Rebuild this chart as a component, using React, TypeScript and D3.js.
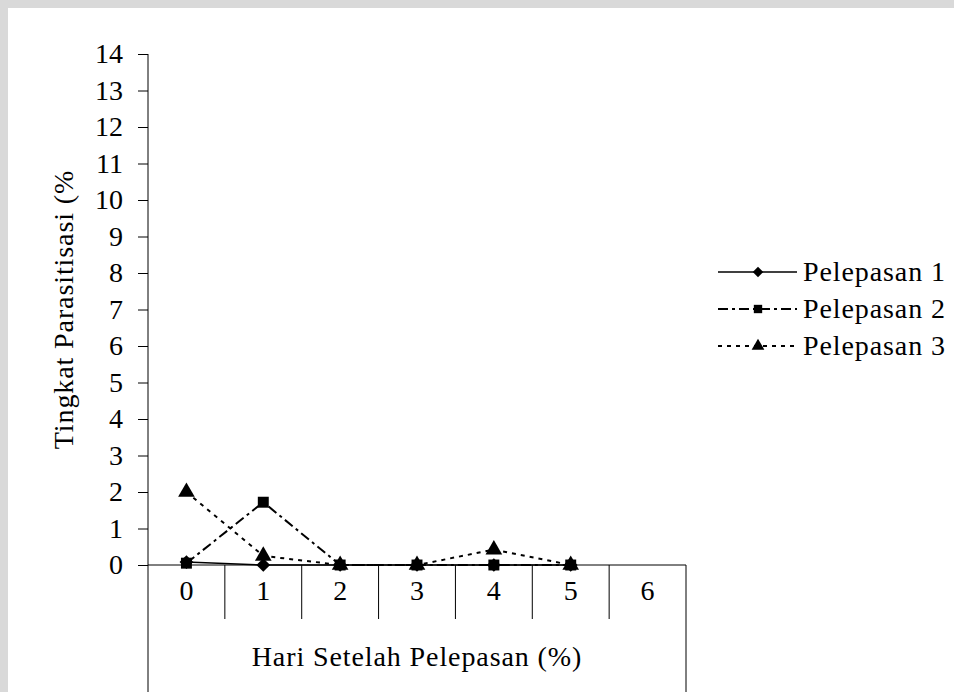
// @ts-nocheck
import { useEffect, useRef } from "react";
import * as d3 from "d3";

const days = ["0", "1", "2", "3", "4", "5", "6"];
const yTicks = d3.range(0, 15);
const pelepasan1 = [0.08, 0, 0, 0, 0, 0];
const pelepasan2 = [0.05, 1.72, 0, 0, 0, 0];
const pelepasan3 = [2.0, 0.25, 0, 0, 0.42, 0];
const seriesNames = ["Pelepasan 1", "Pelepasan 2", "Pelepasan 3"];

const App = () => {
  const ref = useRef(null);

  useEffect(() => {
    const width = 954;
    const height = 692;
    const margin = { top: 54, left: 148, right: 268, bottom: 127 };
    const font = "'Liberation Serif', 'Times New Roman', serif";
    const fs = 28;
    const ls = 0.9; // the source text runs a bit wide

    d3.select(ref.current).selectAll("*").remove();
    const svg = d3
      .select(ref.current)
      .append("svg")
      .attr("width", width)
      .attr("height", height)
      .style("display", "block")
      .style("font-family", font);

    svg.append("rect").attr("width", width).attr("height", height).attr("fill", "#d9d9d9");
    svg.append("rect").attr("x", 8).attr("y", 8).attr("width", width - 8).attr("height", height - 8).attr("fill", "#fff");

    const x = d3
      .scaleBand()
      .domain(days)
      .range([margin.left, width - margin.right]);
    const y = d3
      .scaleLinear()
      .domain([0, 14])
      .range([height - margin.bottom, margin.top]);

    const g = svg.append("g");
    const y0 = y(0);

    // y axis
    const yAxis = g
      .append("g")
      .attr("transform", `translate(${margin.left},0)`)
      .call(d3.axisLeft(y).tickValues(yTicks).tickSize(10).tickSizeOuter(0).tickPadding(15));
    yAxis.select(".domain").remove();
    yAxis.selectAll(".tick line").attr("stroke", "#000");
    yAxis
      .selectAll(".tick text")
      .attr("font-size", fs)
      .attr("font-family", font)
      .attr("fill", "#000");

    // axis lines
    g.append("line")
      .attr("x1", margin.left).attr("x2", margin.left)
      .attr("y1", y(14)).attr("y2", height)
      .attr("stroke", "#000");
    g.append("line")
      .attr("x1", width - margin.right).attr("x2", width - margin.right)
      .attr("y1", y0).attr("y2", height)
      .attr("stroke", "#000");
    g.append("line")
      .attr("x1", margin.left).attr("x2", width - margin.right)
      .attr("y1", y0).attr("y2", y0)
      .attr("stroke", "#000");

    // category separators
    g.selectAll(".sep")
      .data(days.slice(1))
      .join("line")
      .attr("x1", (d) => x(d)).attr("x2", (d) => x(d))
      .attr("y1", y0).attr("y2", y0 + 54)
      .attr("stroke", "#000");

    g.selectAll(".cat")
      .data(days)
      .join("text")
      .attr("x", (d) => x(d) + x.bandwidth() / 2)
      .attr("y", y0 + 35)
      .attr("text-anchor", "middle")
      .attr("font-size", fs)
      .text((d) => d);

    svg.append("text")
      .attr("x", (margin.left + width - margin.right) / 2)
      .attr("y", 666)
      .attr("text-anchor", "middle")
      .attr("font-size", fs)
      .attr("letter-spacing", ls)
      .text("Hari Setelah Pelepasan (%)");

    svg.append("text")
      .attr("transform", `translate(73,${(y(14) + y0) / 2}) rotate(-90)`)
      .attr("text-anchor", "middle")
      .attr("font-size", fs)
      .attr("letter-spacing", ls)
      .text("Tingkat Parasitisasi (%");

    const series = [
      { name: seriesNames[0], values: pelepasan1, dash: null, sym: d3.symbolDiamond2, w: 1.5 },
      { name: seriesNames[1], values: pelepasan2, dash: "10,4,3,4", sym: d3.symbolSquare, w: 2 },
      { name: seriesNames[2], values: pelepasan3, dash: "4,5", sym: d3.symbolTriangle, w: 2 },
    ];

    const cx = (i) => x(days[i]) + x.bandwidth() / 2;
    const line = d3
      .line()
      .x((d, i) => cx(i))
      .y((d) => y(d));

    series.forEach((s) => {
      g.append("path")
        .datum(s.values)
        .attr("fill", "none")
        .attr("stroke", "#000")
        .attr("stroke-width", s.w)
        .attr("stroke-dasharray", s.dash)
        .attr("d", line);
    });
    series.forEach((s) => {
      g.selectAll(null)
        .data(s.values)
        .join("path")
        .attr("transform", (d, i) => `translate(${cx(i)},${y(d)})`)
        .attr("d", d3.symbol().type(s.sym).size(120))
        .attr("fill", "#000");
    });

    // legend
    const legend = svg.append("g").attr("transform", "translate(718,272)");
    series.forEach((s, i) => {
      const row = legend.append("g").attr("transform", `translate(0,${i * 37})`);
      row.append("line")
        .attr("x1", 0).attr("x2", 79)
        .attr("stroke", "#000")
        .attr("stroke-width", s.w)
        .attr("stroke-dasharray", s.dash);
      row.append("path")
        .attr("transform", "translate(40,0)")
        .attr("d", d3.symbol().type(s.sym).size(70))
        .attr("fill", "#000");
      row.append("text")
        .attr("x", 85)
        .attr("y", 9)
        .attr("font-size", fs)
        .attr("letter-spacing", ls)
        .text(s.name);
    });
  }, []);

  return <div ref={ref} style={{ position: "absolute", left: 0, top: 0 }}></div>;
};

export default App;
